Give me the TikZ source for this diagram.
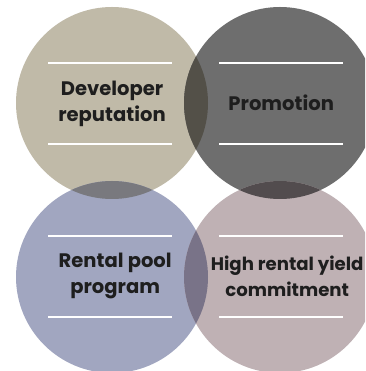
\documentclass[tikz,border=0pt]{standalone}
\usepackage{fontspec}
\setmainfont{Poppins}
\usepackage{xcolor}
\usetikzlibrary{positioning}
\definecolor{cBeige}{RGB}{192,186,168}
\definecolor{cGray}{RGB}{110,110,110}
\definecolor{cBlue}{RGB}{161,166,192}
\definecolor{cMauve}{RGB}{191,177,180}
\definecolor{cBeigeGray}{RGB}{83,80,72}
\definecolor{cBeigeBlue}{RGB}{121,121,126}
\definecolor{cGrayMauve}{RGB}{82,76,78}
\definecolor{cBlueMauve}{RGB}{121,115,136}
\definecolor{cText}{RGB}{30,30,30}

\begin{document}
\begin{tikzpicture}[
    factor/.style={align=center, text=cText, font=\fontsize{13.9}{18.5}\selectfont\bfseries},
    bar/.style={white, line width=1pt}
  ]
    \clip (0,0) rectangle (9.125,9.275);

    % Circle centres
    \coordinate (dev) at (2.8,6.7);
    \coordinate (promo) at (7.0,6.7);
    \coordinate (pool) at (2.8,2.35);
    \coordinate (yield) at (7.0,2.35);

    % Circles
    \fill[cBeige] (dev) circle (2.4);
    \fill[cGray] (promo) circle (2.4);
    \fill[cBlue] (pool) circle (2.4);
    \fill[cMauve] (yield) circle (2.4);

    % Overlaps
    \begin{scope}
        \clip (dev) circle (2.4);
        \fill[cBeigeGray] (promo) circle (2.4);
        \fill[cBeigeBlue] (pool) circle (2.4);
    \end{scope}
    \begin{scope}
        \clip (yield) circle (2.4);
        \fill[cGrayMauve] (promo) circle (2.4);
        \fill[cBlueMauve] (pool) circle (2.4);
    \end{scope}

    % White bars above and below each label
    \draw[bar] ([xshift=-1.6cm, yshift=1cm]dev) -- ([xshift=1.5cm, yshift=1cm]dev);
    \draw[bar] ([xshift=-1.6cm, yshift=-1.025cm]dev) -- ([xshift=1.5cm, yshift=-1.025cm]dev);
    \draw[bar] ([xshift=-1.525cm, yshift=1cm]promo) -- ([xshift=1.575cm, yshift=1cm]promo);
    \draw[bar] ([xshift=-1.525cm, yshift=-1.025cm]promo) -- ([xshift=1.575cm, yshift=-1.025cm]promo);
    \draw[bar] ([xshift=-1.6cm, yshift=1.025cm]pool) -- ([xshift=1.5cm, yshift=1.025cm]pool);
    \draw[bar] ([xshift=-1.6cm, yshift=-1cm]pool) -- ([xshift=1.5cm, yshift=-1cm]pool);
    \draw[bar] ([xshift=-1.525cm, yshift=1.025cm]yield) -- ([xshift=1.575cm, yshift=1.025cm]yield);
    \draw[bar] ([xshift=-1.525cm, yshift=-1cm]yield) -- ([xshift=1.575cm, yshift=-1cm]yield);

    % Labels
    \node[factor] (devtxt) at ([yshift=-0.03cm]dev) {Developer\\reputation};
    \node[factor] (promotxt) at ([xshift=0.03cm]promo) {Promotion};
    \node[factor] (pooltxt) at ([xshift=0.08cm, yshift=0.02cm]pool) {Rental pool\\program};
    \node[factor, font=\fontsize{12.9}{18.5}\selectfont\bfseries] (yieldtxt)
        at ([xshift=0.18cm, yshift=0.02cm]yield) {High rental yield\\commitment};
\end{tikzpicture}
\end{document}
